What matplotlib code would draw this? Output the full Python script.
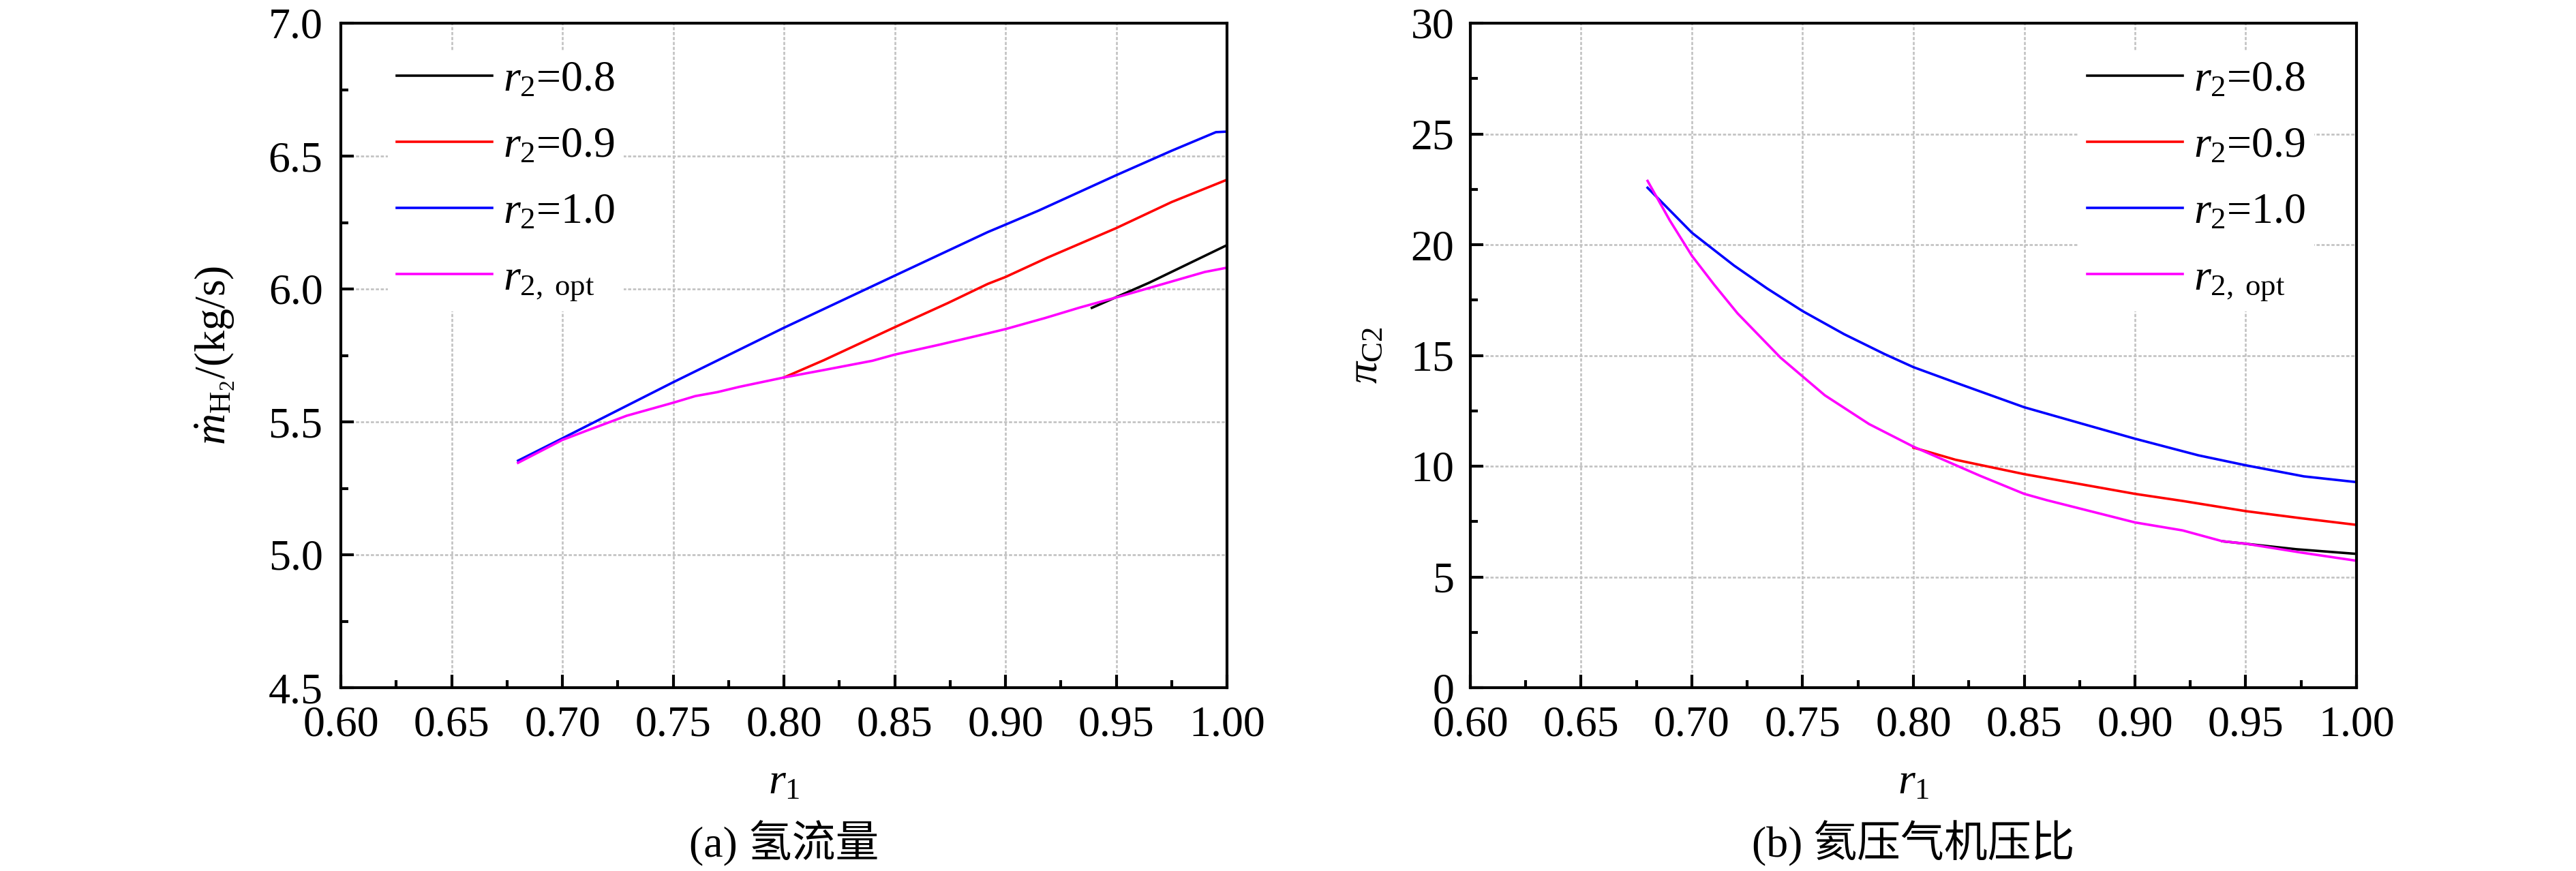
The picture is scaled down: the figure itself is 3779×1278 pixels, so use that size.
import matplotlib
matplotlib.use("Agg")
import matplotlib.pyplot as plt
from matplotlib.ticker import MultipleLocator

plt.rcParams['font.family'] = ['Liberation Serif', 'Noto Sans CJK SC']
plt.rcParams['mathtext.fontset'] = 'custom'
plt.rcParams['mathtext.rm'] = 'Liberation Serif'
plt.rcParams['mathtext.it'] = 'Liberation Serif:italic'
plt.rcParams['mathtext.bf'] = 'Liberation Serif:bold'
plt.rcParams['mathtext.fallback'] = 'stix'

# ---- data, panel (a): hydrogen mass flow ----
r1_a_08 = [0.939, 0.965, 1.00]
mh2_08 = [5.929, 6.024, 6.165]

r1_a_09 = [0.80, 0.818, 0.85, 0.874, 0.892, 0.90, 0.919, 0.95, 0.975, 1.00]
mh2_09 = [5.667, 5.732, 5.856, 5.947, 6.019, 6.045, 6.118, 6.229, 6.327, 6.411]

r1_a_10 = [0.68, 0.70, 0.75, 0.80, 0.85, 0.892, 0.90, 0.915, 0.95, 0.975, 0.995, 1.00]
mh2_10 = [5.354, 5.438, 5.649, 5.854, 6.05, 6.214, 6.242, 6.295, 6.428, 6.52, 6.59, 6.592]

r1_a_opt = [0.68, 0.70, 0.711, 0.729, 0.75, 0.76, 0.77, 0.78, 0.80, 0.818, 0.84, 0.85,
            0.87, 0.892, 0.90, 0.918, 0.9335, 0.95, 0.975, 0.99, 1.00]
mh2_opt = [5.346, 5.432, 5.467, 5.523, 5.572, 5.597, 5.612, 5.632, 5.667, 5.695, 5.73, 5.753,
           5.79, 5.833, 5.849, 5.891, 5.93, 5.968, 6.028, 6.064, 6.08]

# ---- data, panel (b): helium compressor pressure ratio ----
r1_b_08 = [0.9395, 0.9728, 1.00]
pi_08 = [6.61, 6.25, 6.04]

r1_b_09 = [0.80, 0.819, 0.85, 0.90, 0.9215, 0.95, 0.975, 1.00]
pi_09 = [10.84, 10.29, 9.64, 8.75, 8.43, 7.97, 7.65, 7.35]

r1_b_10 = [0.68, 0.70, 0.719, 0.734, 0.75, 0.7687, 0.787, 0.80, 0.8205, 0.85, 0.8767,
           0.90, 0.9286, 0.95, 0.9762, 1.00]
pi_10 = [22.57, 20.54, 19.06, 18.02, 17.0, 15.96, 15.06, 14.47, 13.72, 12.66, 11.9,
         11.24, 10.49, 10.04, 9.54, 9.28]

r1_b_opt = [0.68, 0.69, 0.70, 0.71, 0.7206, 0.74, 0.76, 0.78, 0.80, 0.83, 0.85, 0.86,
            0.90, 0.9215, 0.9395, 0.95, 0.975, 1.00]
pi_opt = [22.88, 21.1, 19.5, 18.2, 16.9, 14.9, 13.2, 11.9, 10.88, 9.57, 8.75, 8.47,
          7.46, 7.1, 6.61, 6.50, 6.1, 5.73]

labels = [r'$r_2$=0.8', r'$r_2$=0.9', r'$r_2$=1.0', r'$r_{\mathrm{2,\ opt}}$']
colors = ['black', 'red', 'blue', '#ff00ff']

FS = 46
W, H = 3780, 1278
fig = plt.figure(figsize=(W / 100, H / 100), dpi=100)
ax_a = fig.add_axes([500 / W, (H - 1009) / H, 1300 / W, 975 / H])
ax_b = fig.add_axes([2157 / W, (H - 1009) / H, 1300 / W, 975 / H])


def style(ax, ypad):
    for s in ax.spines.values():
        s.set_linewidth(3)
    ax.tick_params(which='both', direction='in', top=False, right=False, width=3,
                   labelsize=FS)
    ax.tick_params(which='major', length=14)
    ax.tick_params(which='minor', length=8)
    ax.tick_params(axis='x', pad=19)
    ax.tick_params(axis='y', pad=ypad)
    ax.grid(True, which='major', color='#c2c2c2', linestyle=(0, (1.75, 1)), linewidth=1.9)
    ax.set_axisbelow(True)
    ax.set_xlim(0.60, 1.00)
    ax.xaxis.set_major_locator(MultipleLocator(0.05))
    ax.xaxis.set_minor_locator(MultipleLocator(0.025))
    ax.xaxis.set_major_formatter(plt.FormatStrFormatter('%.2f'))
    ax.set_xlabel(r'$r_1$', fontsize=FS)
    ax.xaxis.set_label_coords(0.5, -0.114)


def legend(ax, x0):
    ax.legend(loc='upper left', bbox_to_anchor=(x0, 0.957), fontsize=FS, frameon=True,
              facecolor='white', edgecolor='none', framealpha=1, fancybox=False,
              handlelength=2.2, handletextpad=0.25, labelspacing=0.6,
              borderaxespad=0.0, borderpad=0.2)


# panel (a)
ax = ax_a
for x, y, c, lab in zip([r1_a_08, r1_a_09, r1_a_10, r1_a_opt],
                        [mh2_08, mh2_09, mh2_10, mh2_opt], colors, labels):
    ax.plot(x, y, color=c, lw=2.6, label=lab)
style(ax, 19)
ax.set_ylim(4.5, 7.0)
ax.yaxis.set_major_locator(MultipleLocator(0.5))
ax.yaxis.set_minor_locator(MultipleLocator(0.25))
ax.yaxis.set_major_formatter(plt.FormatStrFormatter('%.1f'))
ax.set_ylabel(r'$\dot{m}_{\mathrm{H_2}}$/(kg/s)', fontsize=FS, va='center')
ax.yaxis.set_label_coords(-0.142, 0.5)
legend(ax, 0.053)

# panel (b)
ax = ax_b
for x, y, c, lab in zip([r1_b_08, r1_b_09, r1_b_10, r1_b_opt],
                        [pi_08, pi_09, pi_10, pi_opt], colors, labels):
    ax.plot(x, y, color=c, lw=2.6, label=lab)
style(ax, 17)
ax.set_ylim(0, 30)
ax.yaxis.set_major_locator(MultipleLocator(5))
ax.yaxis.set_minor_locator(MultipleLocator(2.5))
ax.set_ylabel(r'$\pi_{\mathrm{C2}}$', fontsize=FS, va='center')
ax.yaxis.set_label_coords(-0.117, 0.5)
legend(ax, 0.686)

fig.text(1150 / W, (H - 1238) / H, '(a) 氢流量', fontsize=FS, ha='center', va='center')
fig.text(2807 / W, (H - 1238) / H, '(b) 氦压气机压比', fontsize=FS, ha='center', va='center')

fig.savefig('out.png', dpi=100)
